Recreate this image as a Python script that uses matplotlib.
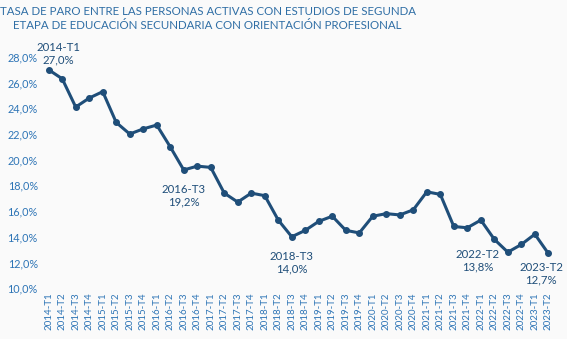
import matplotlib.pyplot as plt
import numpy as np

plt.rcParams['font.family'] = ['Lato', 'DejaVu Sans']

quarters = ['2014-T1', '2014-T2', '2014-T3', '2014-T4',
            '2015-T1', '2015-T2', '2015-T3', '2015-T4',
            '2016-T1', '2016-T2', '2016-T3', '2016-T4',
            '2017-T1', '2017-T2', '2017-T3', '2017-T4',
            '2018-T1', '2018-T2', '2018-T3', '2018-T4',
            '2019-T1', '2019-T2', '2019-T3', '2019-T4',
            '2020-T1', '2020-T2', '2020-T3', '2020-T4',
            '2021-T1', '2021-T2', '2021-T3', '2021-T4',
            '2022-T1', '2022-T2', '2022-T3', '2022-T4',
            '2023-T1', '2023-T2']
paro = [27.0, 26.3, 24.1, 24.8,
        25.3, 22.9, 22.0, 22.4,
        22.7, 21.0, 19.2, 19.5,
        19.4, 17.4, 16.7, 17.4,
        17.2, 15.3, 14.0, 14.5,
        15.2, 15.6, 14.5, 14.3,
        15.6, 15.8, 15.7, 16.1,
        17.5, 17.3, 14.8, 14.7,
        15.3, 13.8, 12.8, 13.4,
        14.2, 12.7]
y_ticks = [10, 12, 14, 16, 18, 20, 22, 24, 26, 28]

# labelled points: index -> (dx, dy) offset in points
labelled = {0: (7, 3), 10: (0, -10), 18: (0, -10), 33: (-12, -7), 37: (-5, -6)}

line_col = '#1f4e79'
tick_col = '#2e75b6'
bg = '#fafafa'

fig = plt.figure(figsize=(5.67, 3.39), dpi=100, facecolor=bg)
ax = fig.add_axes([0.074, 0.150, 0.905, 0.682])
ax.set_facecolor(bg)

x = np.arange(len(quarters))
ax.plot(x, paro, color=line_col, linewidth=2.2, marker='o', markersize=4)

for i, (dx, dy) in labelled.items():
    txt = quarters[i] + '\n' + format(paro[i], '.1f').replace('.', ',') + '%'
    va = 'bottom' if dy > 0 else 'top'
    ax.annotate(txt, (x[i], paro[i]), xytext=(dx, dy), textcoords='offset points',
                ha='center', va=va, fontsize=8.2, color=line_col, linespacing=1.2)

ax.set_xlim(-0.5, len(quarters) - 0.5)
ax.set_ylim(10, 28)
ax.set_xticks(x)
ax.set_xticklabels(quarters, rotation=90, fontsize=7, color=tick_col)
ax.set_yticks(y_ticks)
ax.set_yticklabels([format(v, '.1f').replace('.', ',') + '%' for v in y_ticks],
                   fontsize=7.8, color=tick_col)
ax.tick_params(length=0, pad=3)
for s in ax.spines.values():
    s.set_visible(False)

fig.text(0.366, 0.982, 'TASA DE PARO ENTRE LAS PERSONAS ACTIVAS CON ESTUDIOS DE SEGUNDA\n'
         'ETAPA DE EDUCACIÓN SECUNDARIA CON ORIENTACIÓN PROFESIONAL',
         ha='center', va='top', fontsize=8.3, color='#2f6ea5', linespacing=1.35)

plt.savefig('out.png', dpi=100, facecolor=bg)
